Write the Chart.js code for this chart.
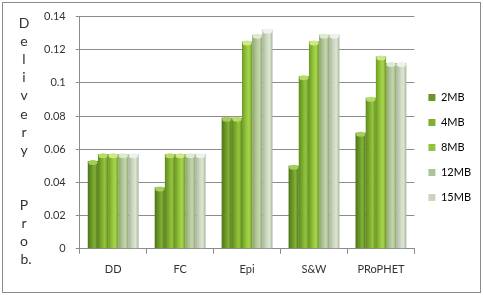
<!DOCTYPE html>
<html>
<head>
<meta charset="utf-8">
<script src="https://cdn.jsdelivr.net/npm/chart.js@4/dist/chart.umd.min.js"></script>
<style>
html,body{margin:0;padding:0;background:#fff;}
#wrap{width:483px;height:295px;position:relative;}
</style>
</head>
<body>
<div id="wrap"><canvas id="c" width="483" height="295"></canvas></div>
<script>
const categories = ["DD", "FC", "Epi", "S&W", "PRoPHET"];
const seriesNames = ["2MB", "4MB", "8MB", "12MB", "15MB"];
const s2MB  = [0.053, 0.037, 0.079, 0.050, 0.070];
const s4MB  = [0.057, 0.057, 0.079, 0.104, 0.091];
const s8MB  = [0.057, 0.057, 0.125, 0.125, 0.116];
const s12MB = [0.057, 0.057, 0.129, 0.129, 0.112];
const s15MB = [0.057, 0.057, 0.132, 0.129, 0.112];
const yTicks = [0, 0.02, 0.04, 0.06, 0.08, 0.1, 0.12, 0.14];
const yTitleTop = ["D", "e", "l", "i", "v", "e", "r", "y"];
const yTitleBottom = ["P", "r", "o", "b."];

const seriesValues = [s2MB, s4MB, s8MB, s12MB, s15MB];
const baseColors = [
  ["#4d7418", "#6f9d2a", "#83b236"],
  ["#5f8a1e", "#82b332", "#97c640"],
  ["#6f9c22", "#95c83c", "#aad454"],
  ["#8ea56e", "#b4c99a", "#c6d6b0"],
  ["#a9b79a", "#cfdac4", "#dce5d3"]
];
const capColors = ["#a6cc5a", "#b8dc6a", "#cfe88a", "#dfe9cf", "#eef2ea"];
const flatColors = ["#6a9626", "#7fae30", "#93c33c", "#aec496", "#c9d5bd"];

const FONT = "Lato, 'Open Sans', 'Liberation Sans', sans-serif";

const framePlugin = {
  id: "frame",
  beforeDraw(chart) {
    const ctx = chart.ctx;
    ctx.save();
    ctx.fillStyle = "#ffffff";
    ctx.fillRect(0, 0, chart.width, chart.height);
    ctx.strokeStyle = "#8a8a8a";
    ctx.lineWidth = 1;
    ctx.strokeRect(2.5, 2.5, chart.width - 5, chart.height - 5);
    ctx.restore();
  },
  beforeDatasetsDraw(chart) {
    const ctx = chart.ctx;
    chart.data.datasets.forEach((ds, di) => {
      const meta = chart.getDatasetMeta(di);
      const cols = baseColors[di];
      meta.data.forEach(el => {
        const half = el.width / 2;
        const g = ctx.createLinearGradient(el.x - half, 0, el.x + half, 0);
        g.addColorStop(0, cols[0]);
        g.addColorStop(0.45, cols[1]);
        g.addColorStop(0.7, cols[2]);
        g.addColorStop(1, cols[0]);
        el.options = Object.assign({}, el.options, { backgroundColor: g });
      });
    });
  },
  afterDatasetsDraw(chart) {
    const ctx = chart.ctx;
    ctx.save();
    chart.data.datasets.forEach((ds, di) => {
      const meta = chart.getDatasetMeta(di);
      meta.data.forEach(el => {
        const half = el.width / 2;
        ctx.fillStyle = capColors[di];
        ctx.beginPath();
        ctx.ellipse(el.x, el.y + 1.5, half - 0.5, 2.5, 0, 0, Math.PI * 2);
        ctx.fill();
      });
    });
    ctx.restore();
  },
  afterDraw(chart) {
    const ctx = chart.ctx;
    ctx.save();
    ctx.fillStyle = "#333333";
    ctx.font = "14px " + FONT;
    ctx.textAlign = "center";
    ctx.textBaseline = "middle";
    const x = 24;
    let y = 23;
    for (const ch of yTitleTop) { ctx.fillText(ch, x, y); y += 18.2; }
    y = 205;
    for (const ch of yTitleBottom) { ctx.fillText(ch, x + (ch.length > 1 ? 2 : 0), y); y += 18.2; }
    ctx.restore();
  }
};

const datasets = seriesNames.map((name, i) => ({
  label: name,
  data: seriesValues[i],
  backgroundColor: flatColors[i],
  borderWidth: 0,
  categoryPercentage: 0.76,
  barPercentage: 1.0
}));

new Chart(document.getElementById("c"), {
  type: "bar",
  data: { labels: categories, datasets },
  plugins: [framePlugin],
  options: {
    responsive: false,
    animation: false,
    layout: { padding: { left: 34, right: 2, top: 10, bottom: 10 } },
    plugins: {
      tooltip: { enabled: false },
      legend: {
        position: "right",
        align: "center",
        labels: {
          boxWidth: 7,
          boxHeight: 7,
          padding: 14,
          color: "#333333",
          font: { family: FONT, size: 11 },
          generateLabels(chart) {
            return chart.data.datasets.map((ds, i) => ({
              text: ds.label,
              fillStyle: flatColors[i],
              strokeStyle: flatColors[i],
              lineWidth: 0,
              datasetIndex: i,
              hidden: false
            }));
          }
        }
      }
    },
    scales: {
      x: {
        offset: true,
        grid: { display: true, drawOnChartArea: false, drawTicks: true, tickLength: 5, offset: true, color: "#8c8c8c" },
        border: { display: true, color: "#8c8c8c" },
        ticks: { color: "#333333", font: { family: FONT, size: 11 }, padding: 9 }
      },
      y: {
        min: 0,
        max: 0.14,
        afterBuildTicks(scale) { scale.ticks = yTicks.map(v => ({ value: v })); },
        grid: { color: "#8c8c8c", tickLength: 4, drawTicks: true },
        border: { display: true, color: "#8c8c8c" },
        ticks: {
          color: "#333333",
          font: { family: FONT, size: 11 },
          padding: 10,
          callback: v => String(Math.round(v * 100) / 100)
        }
      }
    }
  }
});
</script>
</body>
</html>
